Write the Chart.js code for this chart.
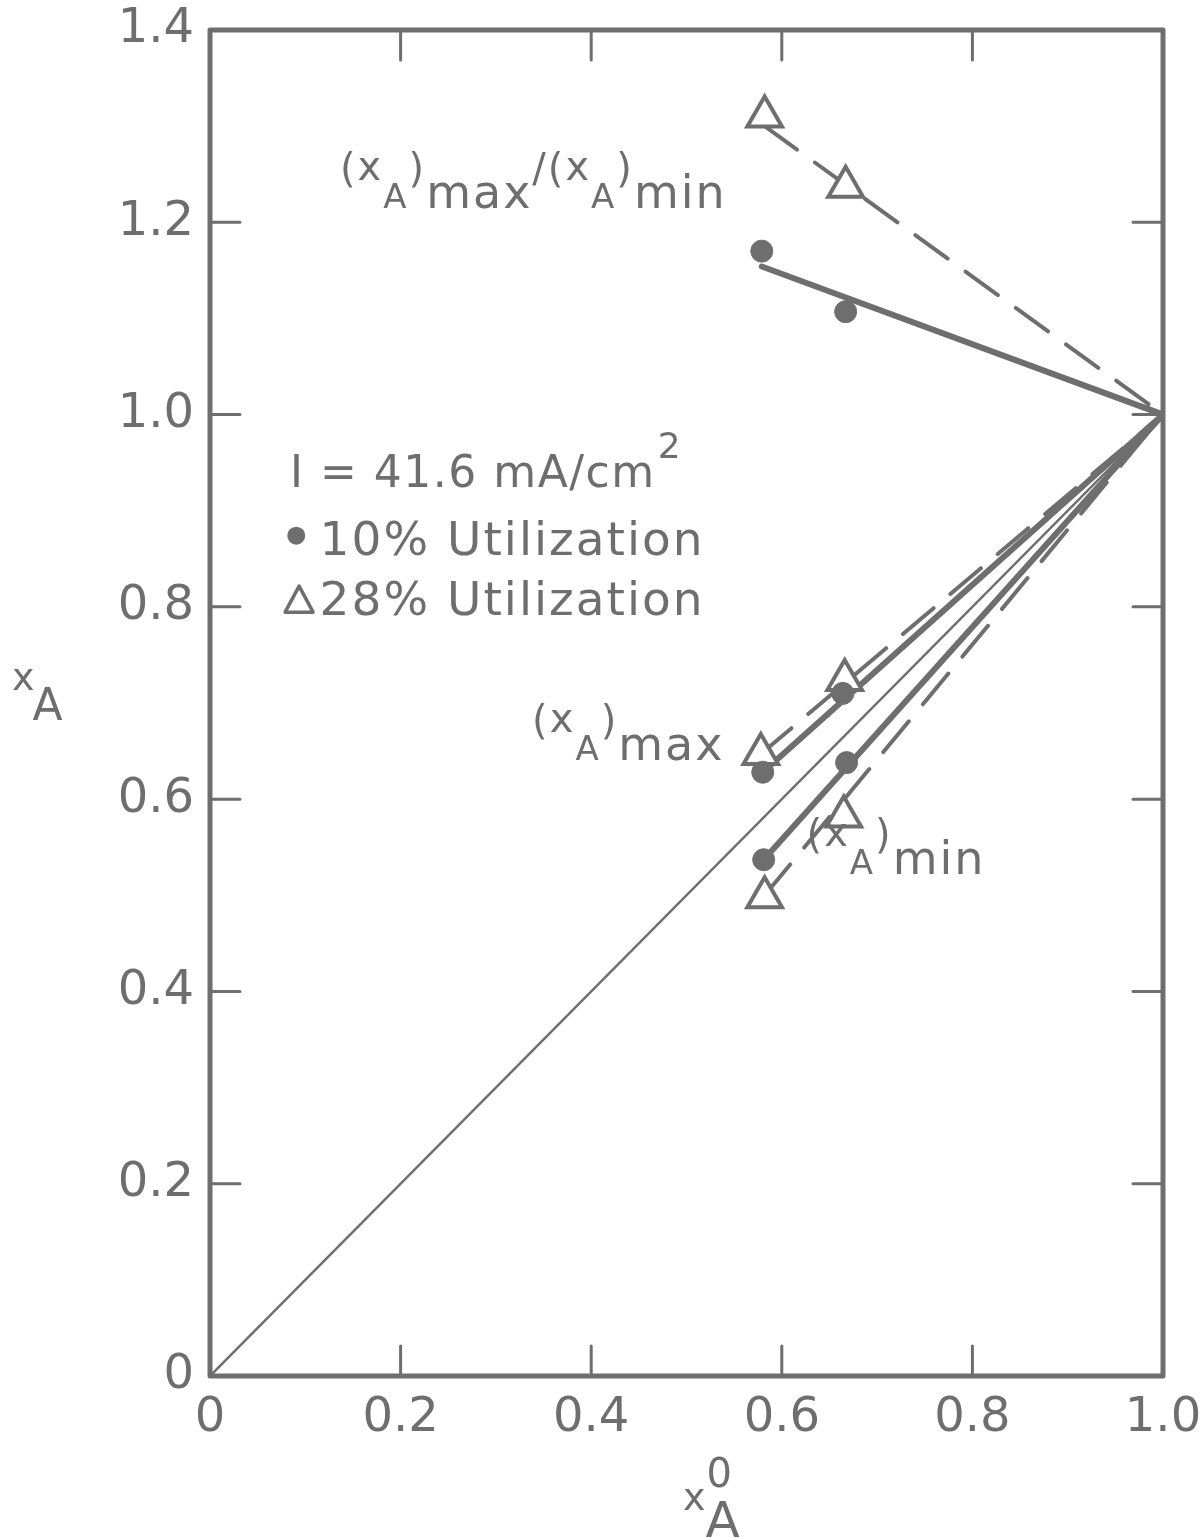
<!DOCTYPE html>
<html>
<head>
<meta charset="utf-8">
<script src="https://cdn.jsdelivr.net/npm/chart.js@4.4.1/dist/chart.umd.min.js"></script>
<style>
  html, body { margin: 0; padding: 0; background: #fff; }
  #wrap { width: 1204px; height: 1538px; }
</style>
</head>
<body>
<div id="wrap"><canvas id="chart" width="1204" height="1538"></canvas></div>
<script>
// values
const xTicks = [0, 0.2, 0.4, 0.6, 0.8, 1.0];
const yTicks = [0, 0.2, 0.4, 0.6, 0.8, 1.0, 1.2, 1.4];

const ratio10 = [{ x: 0.579, y: 1.170 }, { x: 0.667, y: 1.107 }];
const ratio28 = [{ x: 0.582, y: 1.310 }, { x: 0.667, y: 1.237 }];
const max10 = [{ x: 0.580, y: 0.628 }, { x: 0.664, y: 0.710 }];
const max28 = [{ x: 0.578, y: 0.647 }, { x: 0.666, y: 0.724 }];
const min10 = [{ x: 0.581, y: 0.537 }, { x: 0.668, y: 0.638 }];
const min28 = [{ x: 0.582, y: 0.498 }, { x: 0.665, y: 0.582 }];

// drawn lines, all meeting at (1, 1)
const ratio10Line = [{ x: 0.579, y: 1.154 }, { x: 1, y: 1 }];
const ratio28Line = [{ x: 0.582, y: 1.300 }, { x: 1, y: 1 }];
const max10Line = [{ x: 0.580, y: 0.628 }, { x: 1, y: 1 }];
const max28Line = [{ x: 0.578, y: 0.647 }, { x: 1, y: 1 }];
const min10Line = [{ x: 0.581, y: 0.537 }, { x: 1, y: 1 }];
const min28Line = [{ x: 0.582, y: 0.500 }, { x: 1, y: 1 }];
const identityLine = [{ x: 0, y: 0 }, { x: 1, y: 1 }];

const INK = '#6e6e6e';
const FONT = '"DejaVu Sans"';

function solid(data) {
  return { type: 'line', data, borderColor: INK, borderWidth: 6, pointRadius: 0, borderCapStyle: 'round', order: 2 };
}
function dashed(data) {
  return { type: 'line', data, borderColor: INK, borderWidth: 4, borderDash: [40, 22], pointRadius: 0, borderCapStyle: 'round', order: 2 };
}
function dots(data) {
  return { type: 'scatter', data, pointStyle: 'circle', pointRadius: 11, backgroundColor: INK, borderColor: INK, borderWidth: 1, order: 0 };
}
function tris(data) {
  return { type: 'scatter', data, pointStyle: 'triangle', pointRadius: 20, backgroundColor: '#fff', borderColor: INK, borderWidth: 4, order: 0 };
}

function drawRich(ctx, x, y, parts) {
  parts.forEach(p => {
    ctx.font = `${p.size}px ${FONT}`;
    ctx.fillText(p.t, x, y + (p.dy || 0));
    x += ctx.measureText(p.t).width + (p.gap || 0);
  });
  return x;
}

function xaParts(tail) {
  return [
    { t: '(', size: 40, dy: -26 },
    { t: 'x', size: 40, dy: -28 },
    { t: 'A', size: 34 },
    { t: ')', size: 40, dy: -26 },
    { t: tail, size: 46 }
  ];
}

const framePlugin = {
  id: 'frame',
  beforeDatasetsDraw(chart) {
    const { ctx, chartArea: a, scales } = chart;
    ctx.save();
    ctx.strokeStyle = INK;
    ctx.lineCap = 'round';
    ctx.lineWidth = 3;
    const len = 30;
    xTicks.slice(1, -1).forEach(v => {
      const px = scales.x.getPixelForValue(v);
      ctx.beginPath();
      ctx.moveTo(px, a.bottom); ctx.lineTo(px, a.bottom - len);
      ctx.moveTo(px, a.top); ctx.lineTo(px, a.top + len);
      ctx.stroke();
    });
    yTicks.slice(1, -1).forEach(v => {
      const py = scales.y.getPixelForValue(v);
      ctx.beginPath();
      ctx.moveTo(a.left, py); ctx.lineTo(a.left + len, py);
      ctx.moveTo(a.right, py); ctx.lineTo(a.right - len, py);
      ctx.stroke();
    });
    ctx.lineWidth = 5;
    ctx.lineJoin = 'round';
    ctx.strokeRect(a.left, a.top, a.right - a.left, a.bottom - a.top);
    ctx.restore();
  },
  afterDraw(chart) {
    const { ctx, scales } = chart;
    const X = v => scales.x.getPixelForValue(v);
    const Y = v => scales.y.getPixelForValue(v);
    ctx.save();
    ctx.fillStyle = INK;
    ctx.textBaseline = 'alphabetic';
    ctx.textAlign = 'left';
    ctx.letterSpacing = '2px';

    // curve labels
    const r = drawRich(ctx, X(0.1364), Y(1.215), xaParts('max'));
    drawRich(ctx, r, Y(1.215), [{ t: '/', size: 40, dy: -26 }].concat(xaParts('min')));
    drawRich(ctx, X(0.338), Y(0.641), xaParts('max'));
    drawRich(ctx, X(0.626), Y(0.522), xaParts('min'));

    // legend block
    ctx.letterSpacing = '1.5px';
    const lx = X(0.084);
    const end = drawRich(ctx, lx, Y(0.925), [{ t: 'I = 41.6 mA/cm', size: 44 }]);
    drawRich(ctx, end + 2, Y(0.955), [{ t: '2', size: 36 }]);
    ctx.letterSpacing = '2px';
    drawRich(ctx, X(0.115), Y(0.854), [{ t: '10% Utilization', size: 47 }]);
    drawRich(ctx, X(0.115), Y(0.792), [{ t: '28% Utilization', size: 47 }]);
    ctx.beginPath();
    ctx.arc(X(0.0905), Y(0.874), 9, 0, Math.PI * 2);
    ctx.fill();
    ctx.lineWidth = 3.5;
    ctx.strokeStyle = INK;
    ctx.lineJoin = 'round';
    const tx = X(0.0935), ty = Y(0.807);
    ctx.beginPath();
    ctx.moveTo(tx - 14, ty + 12);
    ctx.lineTo(tx + 14, ty + 12);
    ctx.lineTo(tx, ty - 14);
    ctx.closePath();
    ctx.stroke();

    // axis titles
    ctx.letterSpacing = '0px';
    drawRich(ctx, 12, 690, [{ t: 'x', size: 38, gap: -2 }, { t: 'A', size: 44, dy: 30 }]);
    const xe = drawRich(ctx, 683, 1510, [{ t: 'x', size: 38, gap: 1 }]);
    drawRich(ctx, xe, 1487, [{ t: '0', size: 40 }]);
    drawRich(ctx, xe - 1, 1537, [{ t: 'A', size: 50 }]);
    ctx.restore();
  }
};

new Chart(document.getElementById('chart'), {
  data: {
    datasets: [
      { type: 'line', data: identityLine, borderColor: INK, borderWidth: 2.5, pointRadius: 0, order: 3 },
      solid(ratio10Line), dashed(ratio28Line),
      solid(max10Line), dashed(max28Line),
      solid(min10Line), dashed(min28Line),
      dots(ratio10), tris(ratio28),
      dots(max10), tris(max28),
      dots(min10), tris(min28)
    ]
  },
  options: {
    responsive: false,
    animation: false,
    layout: { padding: { top: 30, right: 41, left: 0, bottom: 0 } },
    plugins: { legend: { display: false }, tooltip: { enabled: false } },
    scales: {
      x: {
        type: 'linear', min: 0, max: 1,
        afterBuildTicks: s => { s.ticks = xTicks.map(v => ({ value: v })); },
        afterFit: s => { s.height = 162; s.paddingLeft = 0; s.paddingRight = 0; },
        grid: { display: false, drawTicks: false },
        border: { display: false },
        ticks: {
          color: INK, padding: 14,
          font: { family: 'DejaVu Sans', size: 48 },
          callback: v => (v === 0 ? '0' : v.toFixed(1))
        }
      },
      y: {
        type: 'linear', min: 0, max: 1.4,
        afterBuildTicks: s => { s.ticks = yTicks.map(v => ({ value: v })); },
        afterFit: s => { s.width = 210; s.paddingTop = 0; s.paddingBottom = 0; },
        grid: { display: false, drawTicks: false },
        border: { display: false },
        ticks: {
          color: INK, padding: 16,
          font: { family: 'DejaVu Sans', size: 48 },
          callback: v => (v === 0 ? '0' : v.toFixed(1))
        }
      }
    }
  },
  plugins: [framePlugin]
});
</script>
</body>
</html>
